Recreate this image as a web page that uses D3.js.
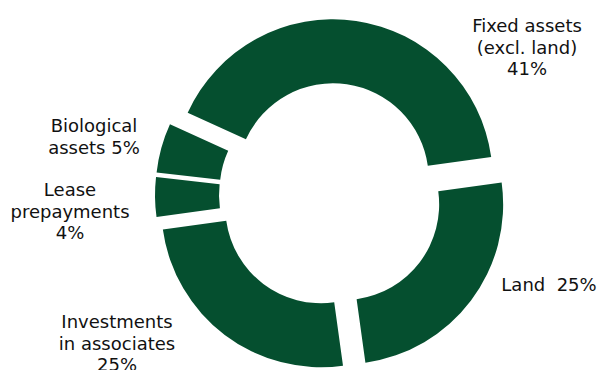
<!DOCTYPE html>
<html>
<head>
<meta charset="utf-8">
<script src="https://cdn.jsdelivr.net/npm/d3@7"></script>
<style>
  html, body { margin: 0; padding: 0; background: #fff; }
  text { font-family: "DejaVu Sans", Verdana, sans-serif; white-space: pre; }
</style>
</head>
<body>
<div id="chart"></div>
<script>
// asset breakdown, % of total
const categories = ["Fixed assets (excl. land)", "Land", "Investments in associates", "Lease prepayments", "Biological assets"];
const values = [41, 25, 25, 4, 5];
// label lines, the last token gets the percentage
const labelLines = [
  ["Fixed assets", "(excl. land)", "%"],
  ["Land  %"],
  ["Investments", "in associates", "%"],
  ["Lease", "prepayments", "%"],
  ["Biological", "assets %"]
];

const width = 601;
const height = 370;
const cx = 330.7, cy = 194.8;
const outerR = 159.7;
const innerR = 95.7;
const explode = 16;
const green = "#054f2f";

// hand placed label anchors (centre x, first baseline y)
const labelAnchor = [[527, 32], [549, 291], [117, 328], [70, 196], [94, 132]];
const lineGap = 21.5;

const svg = d3.select("#chart").append("svg")
  .attr("width", width)
  .attr("height", height);

const g = svg.append("g")
  .attr("transform", `translate(${cx},${cy})`);

const start = -65.5 * Math.PI / 180;
const pie = d3.pie()
  .sort(null)
  .value(d => d)
  .startAngle(start)
  .endAngle(start + Math.PI * 2);

const arc = d3.arc()
  .innerRadius(innerR)
  .outerRadius(outerR);

const slices = pie(values);

g.selectAll("path.slice")
  .data(slices)
  .join("path")
  .attr("class", "slice")
  .attr("d", arc)
  .attr("fill", green)
  .attr("transform", d => {
    const mid = (d.startAngle + d.endAngle) / 2;
    return `translate(${explode * Math.sin(mid)},${-explode * Math.cos(mid)})`;
  });

const labels = svg.selectAll("text.label")
  .data(slices)
  .join("text")
  .attr("class", "label")
  .attr("text-anchor", "middle")
  .attr("font-size", 18)
  .attr("fill", "#111");

labels.each(function(d, i) {
  const [x, y] = labelAnchor[i];
  d3.select(this).selectAll("tspan")
    .data(labelLines[i])
    .join("tspan")
    .attr("x", x)
    .attr("y", (s, j) => y + j * lineGap)
    .text(s => s.replace("%", values[i] + "%"));
});
</script>
</body>
</html>
